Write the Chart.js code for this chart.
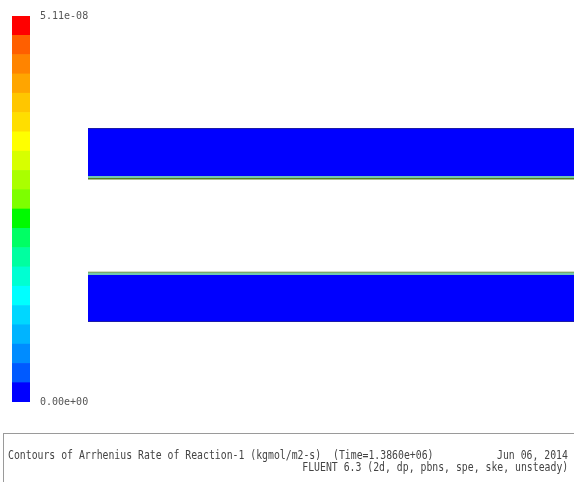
<!DOCTYPE html>
<html>
<head>
<meta charset="utf-8">
<script src="https://cdn.jsdelivr.net/npm/chart.js@4.4.1/dist/chart.umd.min.js"></script>
<style>
  html, body { margin: 0; padding: 0; background: #fff; width: 574px; height: 482px; overflow: hidden; }
  #wrap { position: relative; width: 574px; height: 482px; }
  #wrap canvas { position: absolute; left: 0; top: 0; }
  #info { position: absolute; left: 3px; top: 433px; width: 590px; height: 80px;
          border: 1.5px solid #9a9a9a; box-sizing: border-box; }
  .txt { position: absolute; white-space: pre; font-family: 'DejaVu Sans Mono', monospace;
         font-size: 13px; line-height: 13px; color: #444; }
  .left  { left: 8px;  transform: scaleX(0.755); transform-origin: 0 50%; }
  .right { right: 6px; transform: scaleX(0.755); transform-origin: 100% 50%; }
</style>
</head>
<body>
<div id="wrap">
  <canvas id="field" width="574" height="482"></canvas>
  <canvas id="legendBar" width="574" height="482"></canvas>
  <div id="info"></div>
  <div class="txt left"  style="top:448px">Contours of Arrhenius Rate of Reaction-1 (kgmol/m2-s)  (Time=1.3860e+06)</div>
  <div class="txt right" style="top:448px">Jun 06, 2014</div>
  <div class="txt right" style="top:460px">FLUENT 6.3 (2d, dp, pbns, spe, ske, unsteady)</div>
</div>
<script>
// Colour scale: band boundaries of the reaction rate (kgmol/m2-s)
const rateLevels = [0, 2.555e-9, 5.11e-9, 7.665e-9, 1.022e-8, 1.2775e-8, 1.533e-8, 1.7885e-8,
                    2.044e-8, 2.2995e-8, 2.555e-8, 2.8105e-8, 3.066e-8, 3.3215e-8, 3.577e-8,
                    3.8325e-8, 4.088e-8, 4.3435e-8, 4.599e-8, 4.8545e-8, 5.11e-8];
const rateTicks = [0, 5.11e-8];

// Channel layers across the height (mm), from the lower wall upwards
const layerLow  = [0.0, 0.1, 4.7,  4.93, 14.25, 14.4, 14.6, 19.3];
const layerHigh = [0.1, 4.7, 4.93, 5.03, 14.4,  14.6, 19.3, 19.4];
// Streamwise extent of the channels (mm)
const channelX = [0, 48.6];

// Styles
const bandColors = [
  'rgb(0,0,255)', 'rgb(0,90,255)', 'rgb(0,140,255)', 'rgb(0,180,255)', 'rgb(0,215,255)',
  'rgb(0,255,255)', 'rgb(0,255,210)', 'rgb(0,255,160)', 'rgb(0,255,100)', 'rgb(0,250,0)',
  'rgb(125,255,0)', 'rgb(170,255,0)', 'rgb(215,255,0)', 'rgb(255,255,0)', 'rgb(255,222,0)',
  'rgb(255,198,0)', 'rgb(255,165,0)', 'rgb(255,132,0)', 'rgb(255,95,0)', 'rgb(255,0,0)'
];
const layerColors = ['#1c1ca8', '#0000ff', '#72c7ae', '#56801e',
                     '#56801e', '#72c7ae', '#0000ff', '#1c1ca8'];

function sci(v) {
  return Number(v).toExponential(2).replace(/e([+-])(\d)$/, 'e$10$2');
}

// Contour field: each layer is a filled band between its lower and upper height
new Chart(document.getElementById('field'), {
  type: 'scatter',
  data: {
    datasets: layerLow.map((lo, i) => ({
      data: [{ x: channelX[0], y: layerHigh[i] }, { x: channelX[1], y: layerHigh[i] }],
      showLine: true,
      fill: { value: lo },
      backgroundColor: layerColors[i],
      borderColor: 'rgba(0,0,0,0)',
      borderWidth: 0,
      pointRadius: 0,
      tension: 0
    }))
  },
  options: {
    responsive: false,
    animation: false,
    events: [],
    layout: { padding: { left: 88, right: 0, top: 128, bottom: 160 } },
    plugins: { legend: { display: false }, tooltip: { enabled: false } },
    scales: {
      x: { type: 'linear', display: false, min: 0, max: 48.6 },
      y: { type: 'linear', display: false, min: 0, max: 19.4 }
    }
  }
});

// Colour bar with its end labels
new Chart(document.getElementById('legendBar'), {
  type: 'bar',
  data: {
    labels: ['rate'],
    datasets: bandColors.map((c, i) => ({
      data: [[rateLevels[i], rateLevels[i + 1]]],
      backgroundColor: c,
      borderWidth: 0,
      grouped: false,
      barPercentage: 1,
      categoryPercentage: 1
    }))
  },
  options: {
    responsive: false,
    animation: false,
    events: [],
    layout: { padding: { left: 12, right: 464, top: 13, bottom: 80 } },
    plugins: { legend: { display: false }, tooltip: { enabled: false } },
    scales: {
      x: { display: false },
      y: {
        position: 'right',
        min: rateLevels[0],
        max: rateLevels[rateLevels.length - 1],
        grid: { display: false, drawTicks: false },
        border: { display: false },
        afterBuildTicks: s => { s.ticks = rateTicks.map(v => ({ value: v })); },
        afterFit: s => { s.width = 80; },
        ticks: {
          padding: 10,
          color: '#555',
          font: { family: 'DejaVu Sans Mono', size: 10 },
          callback: v => sci(v)
        }
      }
    }
  }
});
</script>
</body>
</html>
